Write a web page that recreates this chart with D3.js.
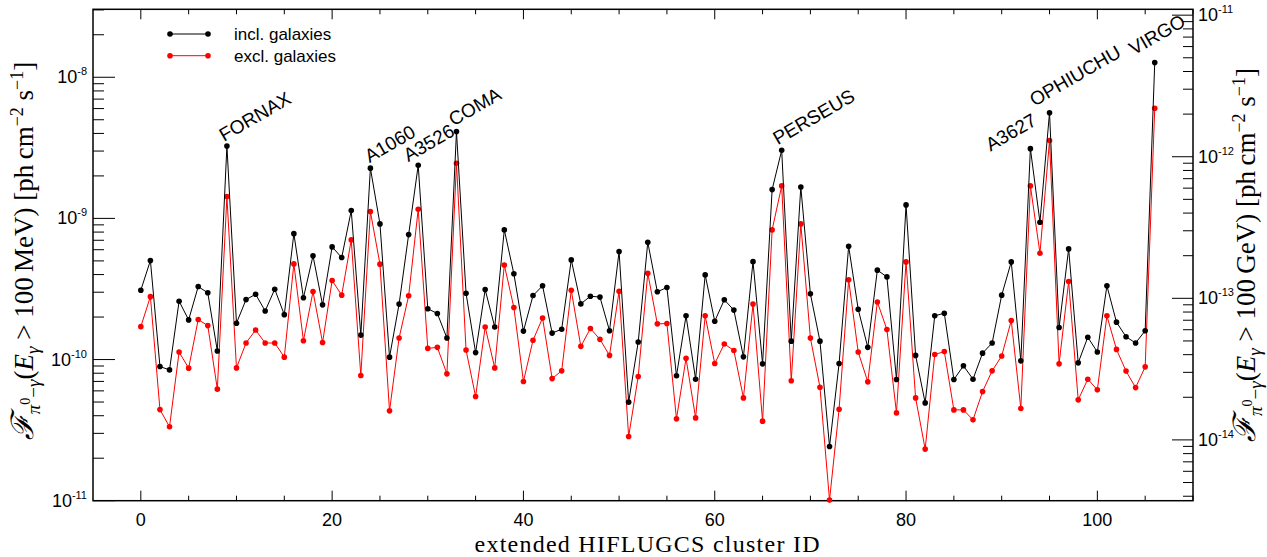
<!DOCTYPE html>
<html lang="en">
<head>
<meta charset="utf-8">
<title>HIFLUGCS pion-decay gamma-ray flux</title>
<script src="https://cdn.jsdelivr.net/npm/d3@7/dist/d3.min.js"></script>
<style>
  html, body { margin: 0; padding: 0; background: #fff; }
  svg { display: block; }
  .tick-label { font-family: "Liberation Sans", Arial, sans-serif; }
  .serif { font-family: "Liberation Serif", "DejaVu Serif", serif; }
</style>
</head>
<body>
<div id="chart"></div>
<script>
// flux above 100 MeV, including galaxies (black)
var fluxIncl = [
  3.10e-10, 5.03e-10, 8.92e-11, 8.45e-11, 2.59e-10, 1.91e-10, 3.29e-10, 2.97e-10, 1.15e-10, 3.26e-9,
  1.81e-10, 2.66e-10, 2.90e-10, 2.21e-10, 3.15e-10, 2.08e-10, 7.80e-10, 2.74e-10, 5.43e-10, 2.44e-10,
  6.28e-10, 5.28e-10, 1.136e-9, 1.49e-10, 2.27e-9, 9.14e-10, 1.04e-10, 2.47e-10, 7.68e-10, 2.38e-9,
  2.29e-10, 2.12e-10, 1.42e-10, 4.12e-9, 2.95e-10, 1.12e-10, 3.13e-10, 1.70e-10, 8.29e-10, 4.05e-10,
  1.59e-10, 2.84e-10, 3.33e-10, 1.54e-10, 1.64e-10, 5.08e-10, 2.48e-10, 2.81e-10, 2.77e-10, 1.60e-10,
  5.82e-10, 4.99e-11, 1.33e-10, 6.78e-10, 3.02e-10, 3.24e-10, 7.67e-11, 2.04e-10, 7.26e-11, 3.98e-10,
  1.87e-10, 2.65e-10, 2.24e-10, 1.045e-10, 4.94e-10, 9.32e-11, 1.60e-9, 3.04e-9, 1.35e-10, 1.67e-9,
  2.92e-10, 1.35e-10, 2.42e-11, 9.37e-11, 6.35e-10, 2.27e-10, 1.22e-10, 4.30e-10, 3.85e-10, 7.22e-11,
  1.246e-9, 1.07e-10, 4.93e-11, 2.04e-10, 2.13e-10, 7.22e-11, 9.03e-11, 7.26e-11, 1.11e-10, 1.31e-10,
  2.86e-10, 4.92e-10, 9.79e-11, 3.12e-9, 9.40e-10, 5.61e-9, 1.685e-10, 6.08e-10, 9.48e-11, 1.44e-10,
  1.13e-10, 3.33e-10, 1.84e-10, 1.45e-10, 1.31e-10, 1.60e-10, 1.27e-8
];

// flux above 100 MeV, excluding galaxies (red)
var fluxExcl = [
  1.71e-10, 2.79e-10, 4.42e-11, 3.34e-11, 1.13e-10, 8.69e-11, 1.92e-10, 1.74e-10, 6.17e-11, 1.43e-9,
  8.73e-11, 1.31e-10, 1.62e-10, 1.31e-10, 1.31e-10, 1.04e-10, 4.76e-10, 1.36e-10, 3.03e-10, 1.32e-10,
  3.63e-10, 2.86e-10, 7.04e-10, 7.70e-11, 1.117e-9, 4.74e-10, 4.33e-11, 1.42e-10, 2.83e-10, 1.162e-9,
  1.20e-10, 1.22e-10, 7.92e-11, 2.46e-9, 1.17e-10, 5.47e-11, 1.70e-10, 8.73e-11, 4.68e-10, 2.34e-10,
  6.99e-11, 1.37e-10, 1.97e-10, 7.33e-11, 8.32e-11, 3.10e-10, 1.24e-10, 1.66e-10, 1.39e-10, 1.07e-10,
  3.05e-10, 2.85e-11, 7.58e-11, 4.09e-10, 1.79e-10, 1.80e-10, 3.80e-11, 1.02e-10, 3.86e-11, 2.04e-10,
  9.37e-11, 1.29e-10, 1.16e-10, 5.35e-11, 2.47e-10, 3.66e-11, 8.29e-10, 1.70e-9, 7.07e-11, 9.14e-10,
  1.42e-10, 6.37e-11, 1.01e-11, 4.45e-11, 3.67e-10, 1.13e-10, 6.95e-11, 2.56e-10, 1.63e-10, 4.19e-11,
  4.92e-10, 5.35e-11, 2.32e-11, 1.085e-10, 1.14e-10, 4.40e-11, 4.40e-11, 3.74e-11, 5.93e-11, 8.32e-11,
  1.06e-10, 1.89e-10, 4.50e-11, 1.70e-9, 5.67e-10, 3.56e-9, 9.32e-11, 3.57e-10, 5.18e-11, 7.26e-11,
  6.10e-11, 2.04e-10, 1.18e-10, 8.28e-11, 6.33e-11, 8.88e-11, 6.03e-9
];

var labelNames = ["FORNAX", "A1060", "A3526", "COMA", "PERSEUS", "A3627", "OPHIUCHU", "VIRGO"];
var labelIds = [9, 24, 29, 33, 67, 93, 95, 106];

var seriesNames = ["incl. galaxies", "excl. galaxies"];
var xTicks = [0, 20, 40, 60, 80, 100];
var leftDecades = [1e-11, 1e-10, 1e-9, 1e-8];
var rightDecades = [1e-14, 1e-13, 1e-12, 1e-11];

var w = 1267, h = 557;
var plotLeft = 93, plotRight = 1193, plotTop = 9.3, plotBottom = 500.7;

var svg = d3.select("#chart").append("svg")
  .attr("width", w).attr("height", h);

var x = d3.scaleLinear().domain([-5, 110]).range([plotLeft, plotRight]);
var y = d3.scaleLog().domain([1e-11, 3.03e-8]).range([plotBottom, plotTop]);
// 100 GeV axis, same pixels, shifted in value
var yR = d3.scaleLog().domain([3.72e-15, 1.10e-11]).range([plotBottom, plotTop]);

function minorTicks(scale) {
  var d = scale.domain(), out = [];
  var e0 = Math.floor(Math.log10(d[0])), e1 = Math.ceil(Math.log10(d[1]));
  for (var e = e0; e <= e1; e++) {
    for (var m = 2; m <= 9; m++) {
      var v = m * Math.pow(10, e);
      if (v >= d[0] && v <= d[1]) out.push(v);
    }
  }
  return out;
}

function supLabel(g, base, exp) {
  g.append("tspan").text(base);
  g.append("tspan").attr("font-size", 11).attr("dy", -8).text(exp);
}

var axes = svg.append("g").attr("stroke", "#000").attr("fill", "none");

// x ticks, bottom and top
var xMinor = d3.range(-5, 111, 5).filter(function(v){ return v % 20 != 0 && v > -5; });
xTicks.forEach(function(v){
  axes.append("line").attr("x1", x(v)).attr("x2", x(v)).attr("y1", plotBottom).attr("y2", plotBottom - 10);
  axes.append("line").attr("x1", x(v)).attr("x2", x(v)).attr("y1", plotTop).attr("y2", plotTop + 10);
});
xMinor.forEach(function(v){
  axes.append("line").attr("x1", x(v)).attr("x2", x(v)).attr("y1", plotBottom).attr("y2", plotBottom - 5);
  axes.append("line").attr("x1", x(v)).attr("x2", x(v)).attr("y1", plotTop).attr("y2", plotTop + 5);
});

// left y ticks
leftDecades.forEach(function(v){
  axes.append("line").attr("x1", plotLeft).attr("x2", plotLeft + 22).attr("y1", y(v)).attr("y2", y(v));
});
minorTicks(y).forEach(function(v){
  axes.append("line").attr("x1", plotLeft).attr("x2", plotLeft + 11).attr("y1", y(v)).attr("y2", y(v));
});
// right y ticks
rightDecades.forEach(function(v){
  axes.append("line").attr("x1", plotRight).attr("x2", plotRight - 21).attr("y1", yR(v)).attr("y2", yR(v));
});
minorTicks(yR).forEach(function(v){
  axes.append("line").attr("x1", plotRight).attr("x2", plotRight - 10).attr("y1", yR(v)).attr("y2", yR(v));
});

axes.append("rect")
  .attr("x", plotLeft).attr("y", plotTop)
  .attr("width", plotRight - plotLeft).attr("height", plotBottom - plotTop)
  .attr("stroke-width", 1.5);

// tick labels
svg.append("g").selectAll("text").data(xTicks).enter().append("text")
  .attr("class", "tick-label")
  .attr("x", function(d){ return x(d); })
  .attr("y", 526)
  .attr("text-anchor", "middle")
  .attr("font-size", 18)
  .text(function(d){ return d; });

leftDecades.forEach(function(v){
  var t = svg.append("text").attr("class", "tick-label")
    .attr("x", 87).attr("y", y(v) + 6)
    .attr("text-anchor", "end").attr("font-size", 18);
  supLabel(t, "10", String(Math.round(Math.log10(v))));
});
rightDecades.forEach(function(v){
  var t = svg.append("text").attr("class", "tick-label")
    .attr("x", 1198).attr("y", yR(v) + 6)
    .attr("font-size", 18);
  supLabel(t, "10", String(Math.round(Math.log10(v))));
});

// axis titles
svg.append("text").attr("class", "serif")
  .attr("x", 647).attr("y", 551.5)
  .attr("text-anchor", "middle")
  .attr("font-size", 24)
  .attr("textLength", 345)
  .text("extended HIFLUGCS cluster ID");

function fluxTitle(tx, ty, energy) {
  var t = svg.append("text").attr("class", "serif")
    .attr("transform", "translate(" + tx + "," + ty + ") rotate(-90)")
    .attr("text-anchor", "middle")
    .attr("font-size", 27);
  t.append("tspan").attr("font-style", "italic").attr("font-size", 31).text("\u2131");
  t.append("tspan").attr("font-style", "italic").attr("font-size", 19).attr("dy", 7).text("\u03c0");
  t.append("tspan").attr("font-size", 14).attr("dy", -10).text("0");
  t.append("tspan").attr("font-size", 19).attr("dy", 10).text("\u2212");
  t.append("tspan").attr("font-style", "italic").attr("font-size", 19).text("\u03b3");
  t.append("tspan").attr("dy", -7).text("(");
  t.append("tspan").attr("font-style", "italic").text("E");
  t.append("tspan").attr("font-style", "italic").attr("font-size", 19).attr("dy", 6).text("\u03b3");
  t.append("tspan").attr("dy", -6).text(" > 100\u2009" + energy + ") [ph\u2009cm");
  t.append("tspan").attr("font-size", 18).attr("dy", -10).text("\u22122");
  t.append("tspan").attr("dy", 10).text(" s");
  t.append("tspan").attr("font-size", 18).attr("dy", -10).text("\u22121");
  t.append("tspan").attr("dy", 10).text("]");
}
fluxTitle(33, 251, "MeV");
fluxTitle(1255, 255, "GeV");

// series
var series = [
  { values: fluxIncl, color: "#000000" },
  { values: fluxExcl, color: "#ff0000" }
];

var line = d3.line()
  .x(function(d, i){ return x(i); })
  .y(function(d){ return y(d); });

var plot = svg.append("g");
series.slice().reverse().forEach(function(s){
  plot.append("path")
    .datum(s.values)
    .attr("fill", "none")
    .attr("stroke", s.color)
    .attr("stroke-width", 1)
    .attr("d", line);
  plot.selectAll(null).data(s.values).enter().append("circle")
    .attr("cx", function(d, i){ return x(i); })
    .attr("cy", function(d){ return y(d); })
    .attr("r", 2.8)
    .attr("fill", s.color);
});

// cluster names
var labelShift = {
  FORNAX: [-3, -4], A1060: [-1, -5], A3526: [-10, -3], COMA: [-3, -5],
  PERSEUS: [-4, -5], A3627: [-40, 3], OPHIUCHU: [-15, -6], VIRGO: [-21, -7]
};
labelNames.forEach(function(name, k){
  var id = labelIds[k];
  var px = x(id) + labelShift[name][0];
  var py = y(fluxIncl[id]) + labelShift[name][1];
  svg.append("text")
    .attr("class", "tick-label")
    .attr("transform", "translate(" + px + "," + py + ") rotate(-30)")
    .attr("font-size", 19)
    .text(name);
});

// legend
series.forEach(function(s, k){
  var ly = 34 + k * 21.7;
  var lg = svg.append("g");
  lg.append("line").attr("x1", 170).attr("x2", 208).attr("y1", ly).attr("y2", ly)
    .attr("stroke", s.color).attr("stroke-width", 1);
  lg.append("circle").attr("cx", 170).attr("cy", ly).attr("r", 2.8).attr("fill", s.color);
  lg.append("circle").attr("cx", 208).attr("cy", ly).attr("r", 2.8).attr("fill", s.color);
  lg.append("text").attr("class", "tick-label")
    .attr("x", 234).attr("y", ly + 6)
    .attr("font-size", 17)
    .text(seriesNames[k]);
});
</script>
</body>
</html>
